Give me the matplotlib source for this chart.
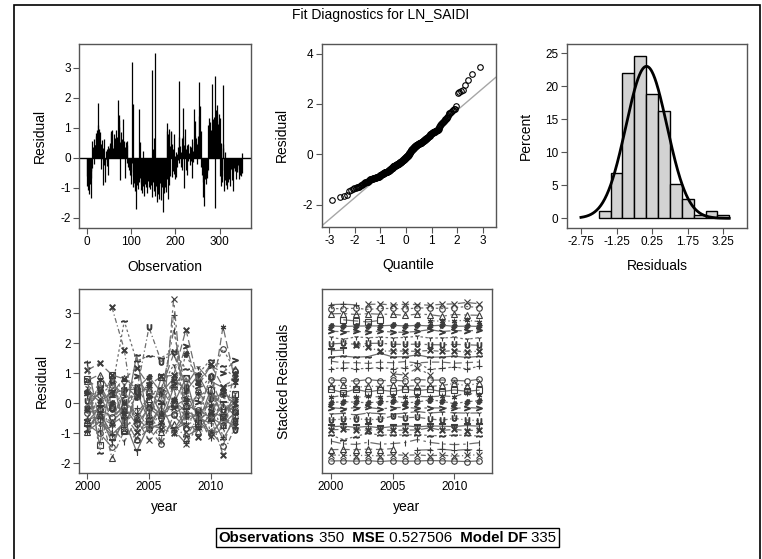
import numpy as np
import matplotlib.pyplot as plt
from matplotlib.patches import Rectangle
from statistics import NormalDist

plt.rcParams['font.family'] = ['Liberation Sans', 'DejaVu Sans']
plt.rcParams['axes.unicode_minus'] = False

# residuals of LN_SAIDI, in observation order (cross-section, then year)
residual = [
    -0.93, -0.62, -1.07, -0.78, -0.53, -1.22, -0.71, -0.88, -1.34, -0.66, -0.44,
    0.56, -0.33, 0.37, 0.28, 0.61, -0.21, 0.43, 0.41, 0.14, 0.72, 0.84, 0.38,
    0.91, 1.81, 1.08, 0.76, 0.96, 0.31, 0.86, 0.47,
    0.46, -0.39, 0.59, 0.19, -0.91, 0.33, -0.08, -0.24, 0.64, -0.13,
    -0.81, 0.24, -0.03, -0.29, -0.06, 0.29, -0.57, 0.39, 0.07, 0.34,
    0.44, 0.48, 0.89, 0.36, 0.83, 0.42, 0.94, 0.16, 0.32, 0.11,
    0.79, 0.46, 0.67, 0.26, 0.92, 0.22, 0.04, 0.69,
    1.91, 0.58, 1.26, 1.02, 1.44, 0.54, -0.74, 0.87,
    0.40, 0.62, 0.27, 0.51, 1.29, 0.12, 0.18, 0.57, -0.69, 0.35,
    0.09, 0.52, -0.19, 0.43, 0.55, -0.11, -0.31, -0.04, -0.41,
    -0.56, -0.26, -0.46, -0.89, -0.61, -0.16, 3.2, 1.79, -0.96, -0.72,
    -0.84, -0.99, -0.38, -1.11, -0.47, -1.71, -0.76, -0.92, -0.28, -1.04, -0.64, 1.62, -0.82,
    -0.68, 0.53, -1.09, -0.87, -0.36, -1.19, -0.48, 0.23, -0.94, -0.77,
    -1.29, -0.49, -0.86, -0.07, -0.98, -0.42, -0.43, -1.16, -0.79, -0.32,
    -0.97, -0.34, -1.03, -0.73, -0.17, -0.9, -0.27,
    2.94, -1.31, -0.8, 0.3, -1.12, 0.66, -0.54, -1.26, 3.48, -0.95, -0.7,
    -0.99, -1.46, -0.45, -1.21, -0.85, -1.36, -0.4, -0.83, -0.75, -0.94,
    -1.41, -0.23, -0.96, -0.14, -1.82, -0.91, -1.18, -0.37, -0.97, -0.69, -1.14, -0.44,
    0.9, -0.71, 1.16, 0.8, -1.39, 0.95, -0.9, 0.4, -0.6, 0.88,
    -0.02, 0.85, -0.65, 0.45, -0.45, 0.3, -0.55, 0.78, -0.7, 0.06,
    -0.35, 0.2, -0.63, 0.13, -0.3, 0.35, -0.09,
    2.56, 0.7, -0.18, 0.4, 0.02, -0.3, 0.2, 0.65, -0.4, 0.1,
    1.66, 0.71, -1.0, 0.41, 0.97, 0.33, -0.41, 0.29, 0.44, -0.58,
    0.24, 0.46, -0.12, 0.15, 0.05, -0.25, 0.38, -0.06, -0.1, 0.36,
    -0.68, 0.63, 0.21, -0.15, 0.51, 1.64, 0.6, 1.21, 0.73, 0.53,
    0.65, -0.2, 0.47, 0.74, 0.03, 0.39, 2.53, 1.39, 1.71, 0.5, -0.3, 0.89, -0.22,
    -0.59, -0.81, -0.35, -1.3, -0.55, -1.61, -0.7, -0.1, -0.89, -0.25, -0.47, -0.67, -0.01, -0.42,
    1.1, 1.34, 0.95, 0.81, 1.19, 0.6, 0.9, 0.93, 2.46, 0.7, 1.3, 0.55, 0.85, 1.37, -1.66, 0.45,
    2.74, 1.41, 1.59, 1.52, 1.76, 1.14, 0.98, 1.46, 1.24, 0.82, 1.33, -0.6, -0.95, 0.5, -0.8, -0.4, 0.31,
    2.42, 0.45, -0.61, -1.1, -0.75, 0.2, -0.9,
    -0.65, -0.3, -1.05, -0.5, -0.8, -0.2, -0.45, -0.7, -0.4, -0.95,
    -0.05, -0.38, -0.14, -0.75, -0.27, -1.1, -0.46, -0.03, -0.33, -0.19,
    -0.44, -0.11, -0.7, -0.15, -0.48, -0.36, -0.07, -0.23, -0.47, -0.71,
    -0.29, -0.56, -0.39, -0.62, -0.21, -0.5, 0.16,
]

# first and last year of each cross-section, in observation order
cs_first = [2000, 2003, 2000, 2000, 2001, 2008, 2000, 2000, 2000, 2000, 2000, 2002,
            2000, 2000, 2000, 2005, 2000, 2000, 2000, 2000, 2000, 2000, 2000, 2000,
            2000, 2000, 2000, 2000, 2007, 2000, 2000, 2000]
cs_last = [2002, 2012, 2012, 2012, 2004, 2012, 2012, 2012, 2012, 2012, 2001, 2012,
           2012, 2012, 2012, 2008, 2012, 2012, 2012, 2012, 2012, 2012, 2012, 2012,
           2012, 2012, 2012, 2012, 2012, 2012, 2012, 2005]

mse = 0.527506
model_df = 335

res = np.array(residual)
n = len(res)
assert sum(l - f + 1 for f, l in zip(cs_first, cs_last)) == n

W, H = 762, 559
fig = plt.figure(figsize=(W / 100, H / 100), dpi=100)


def box(l, t, r, b):
    return [l / W, 1 - b / H, (r - l) / W, (b - t) / H]


frame = '#555555'


def style(ax):
    for s in ax.spines.values():
        s.set_color(frame)
        s.set_linewidth(1.0)
    ax.tick_params(direction='out', length=4, width=0.8, color=frame,
                   labelsize=8.5, pad=2)


def labels(ax, xl, yl, xy, yx):
    ax.set_xlabel(xl, fontsize=10)
    ax.set_ylabel(yl, fontsize=10)
    ax.xaxis.set_label_coords(0.5, xy)
    ax.yaxis.set_label_coords(yx, 0.5)
    ax.xaxis.label.set_va('center')
    ax.yaxis.label.set_va('center')


# residual by observation
ax1 = fig.add_axes(box(79, 44, 251, 228))
obs = np.arange(1, n + 1)
ax1.vlines(obs, 0, res, color='black', lw=0.9)
ax1.axhline(0, color='black', lw=1)
ax1.set_xlim(-17, 370)
ax1.set_ylim(-2.34, 3.79)
ax1.set_xticks([0, 100, 200, 300])
ax1.set_yticks([-2, -1, 0, 1, 2, 3])
style(ax1)
labels(ax1, 'Observation', 'Residual', -0.21, -0.227)

# Q-Q plot
ax2 = fig.add_axes(box(321.7, 44, 495.7, 226.7))
nd = NormalDist()
q = [nd.inv_cdf((i + 1 - 0.375) / (n + 0.25)) for i in range(n)]
ax2.axline((0, res.mean()), slope=res.std(ddof=1), color='#a6a6a6', lw=1)
ax2.plot(q, np.sort(res), 'o', mfc='none', mec='black', ms=4, mew=0.8)
ax2.set_xlim(-3.3, 3.51)
ax2.set_ylim(-2.88, 4.38)
ax2.set_xticks([-3, -2, -1, 0, 1, 2, 3])
ax2.set_yticks([-2, 0, 2, 4])
style(ax2)
labels(ax2, 'Quantile', 'Residual', -0.21, -0.228)

# histogram with normal density
ax3 = fig.add_axes(box(566.7, 44, 747.3, 227.7))
width = 0.5
edges = np.arange(-2.0, 3.5 + width / 2, width)
ax3.hist(res, bins=edges, weights=np.full(n, 100.0 / n), fc='#d3d3d3',
         ec='black', lw=1)
xs = np.linspace(-2.75, 3.5, 300)
dens = NormalDist(res.mean(), res.std(ddof=1))
ax3.plot(xs, [100 * width * dens.pdf(x) for x in xs], color='black', lw=2)
ax3.set_xlim(-3.35, 4.26)
ax3.set_ylim(-1.42, 26.4)
ax3.set_xticks([-2.75, -1.25, 0.25, 1.75, 3.25])
ax3.set_yticks([0, 5, 10, 15, 20, 25])
style(ax3)
labels(ax3, 'Residuals', 'Percent', -0.21, -0.225)

# per cross-section styles
markers = ['+', 'x', 'o', '^', 's', (6, 2, 0), r'$\#$', r'$>$', '1',
           r'$\cup$', r'$\top$', r'$\times$', r'$\sim$', r'$\mathrm{I}$']
lstyles = ['-', (0, (6, 3)), (0, (2, 2)), (0, (8, 3, 2, 3)), (0, (12, 4)),
           (0, (4, 2, 1, 2))]
line_col = '#6e6e6e'
mark_col = '#3c3c3c'

# split residuals into cross-sections
groups = []
start = 0
for f, l in zip(cs_first, cs_last):
    k = l - f + 1
    groups.append((np.arange(f, l + 1), res[start:start + k]))
    start += k

# stacking rows: cross-sections that do not overlap in time share a row
rows, cs_row = [], []
for f, l in zip(cs_first, cs_last):
    for r, spans in enumerate(rows):
        if all(l < a or f > b for a, b in spans):
            spans.append((f, l))
            cs_row.append(r)
            break
    else:
        rows.append([(f, l)])
        cs_row.append(len(rows) - 1)

ax4 = fig.add_axes(box(79, 289.3, 251, 472.7))
ax5 = fig.add_axes(box(321.7, 289.3, 491.7, 472.7))
step = 4.0
for i, (yrs, r) in enumerate(groups):
    m = markers[i % len(markers)]
    fill = mark_col if isinstance(m, str) and m.startswith('$') else 'none'
    kw = dict(color=line_col, lw=0.9, ls=lstyles[i % len(lstyles)], marker=m,
              ms=4, mew=0.8, mfc=fill, mec=mark_col)
    ax4.plot(yrs, r, **kw)
    ax5.plot(yrs, r - step * cs_row[i], **kw)

ax4.set_xlim(1999.33, 2013.27)
ax4.set_ylim(-2.31, 3.8)
ax4.set_xticks([2000, 2005, 2010])
ax4.set_yticks([-2, -1, 0, 1, 2, 3])
style(ax4)
labels(ax4, 'year', 'Residual', -0.185, -0.215)

nrows = len(rows)
ax5.set_xlim(1999.25, 2013.03)
ax5.set_ylim(-(nrows - 1 + 2.1) * step, 2.4 * step)
ax5.set_xticks([2000, 2005, 2010])
ax5.set_yticks([])
style(ax5)
labels(ax5, 'year', 'Stacked Residuals', -0.185, -0.222)

fig.text(0.5, 1 - 15 / H, 'Fit Diagnostics for LN_SAIDI', ha='center',
         va='center', fontsize=10)

# footer statistics box
fax = fig.add_axes([0, 0, 1, 1])
fax.axis('off')
parts = [('Observations', 'bold'), (f' {n}', 'normal'), ('  MSE', 'bold'),
         (f' {mse}', 'normal'), ('  Model DF', 'bold'), (f' {model_df}', 'normal')]
fs = 10.8
texts = [fax.text(0.29, 1 - 545.5 / H, parts[0][0], weight=parts[0][1],
                  fontsize=fs, va='bottom', ha='left', transform=fig.transFigure)]
for s, w in parts[1:]:
    texts.append(fax.annotate(s, xy=(1, 0), xycoords=texts[-1], va='bottom',
                              ha='left', weight=w, fontsize=fs))
fig.canvas.draw()
rend = fig.canvas.get_renderer()
bbs = [t.get_window_extent(rend) for t in texts]
x0 = min(b.x0 for b in bbs)
x1 = max(b.x1 for b in bbs)
dx = 387.5 - (x0 + x1) / 2
texts[0].set_x(texts[0].get_position()[0] + dx / W)
fig.patches.append(Rectangle(((x0 + dx - 3) / W, 1 - 546.7 / H),
                             (x1 - x0 + 6) / W, 18.7 / H,
                             transform=fig.transFigure, fill=False,
                             ec='black', lw=1))

# outer frame
fig.patches.append(Rectangle((13.5 / W, -0.05), (759.5 - 13.5) / W,
                             1.05 - 4.5 / H, transform=fig.transFigure,
                             fill=False, ec='black', lw=1.2))

fig.savefig('out.png', dpi=100)
